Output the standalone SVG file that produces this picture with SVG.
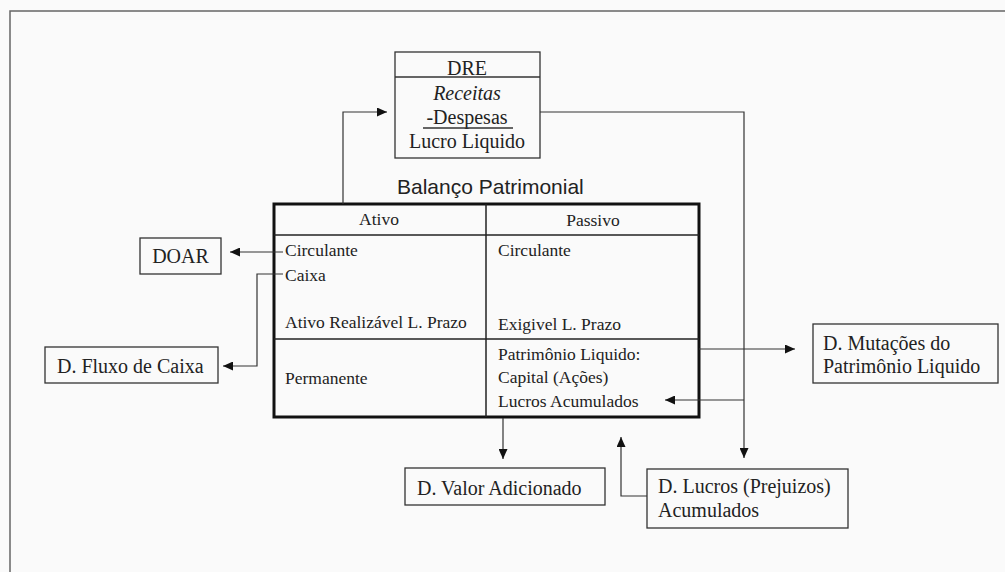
<svg xmlns="http://www.w3.org/2000/svg" width="1005" height="572" viewBox="0 0 1005 572">
<defs>
<style>
.bg{fill:#fafafa}
.frame{fill:none;stroke:#666;stroke-width:1.5}
.box{fill:none;stroke:#333;stroke-width:1.3}
.tbl{fill:none;stroke:#111;stroke-width:3}
.div{fill:none;stroke:#222;stroke-width:1.5}
.con{fill:none;stroke:#333;stroke-width:1.2}
.s{font-family:"Liberation Serif","Times New Roman",serif;fill:#222}
.t{font-size:17.5px}
.b{font-size:20px}
.h{font-family:"Liberation Sans",Arial,sans-serif;font-size:21px;fill:#222}
.c{text-anchor:middle}
</style>
<marker id="arr" markerUnits="userSpaceOnUse" markerWidth="11" markerHeight="9" refX="10" refY="4.5" orient="auto">
<path d="M0,0 L10,4.5 L0,9 z" fill="#111"/>
</marker>
</defs>
<rect class="bg" x="0" y="0" width="1005" height="572"/>
<path class="frame" d="M10,572 V11 H1005"/>

<g id="dre">
<rect class="box" x="395" y="52" width="145" height="106"/>
<line class="box" x1="395" y1="77" x2="540" y2="77"/>
<text class="s b c" x="467" y="75">DRE</text>
<text class="s b c" x="467" y="100" font-style="italic">Receitas</text>
<text class="s b c" x="467" y="124">-Despesas</text>
<line class="box" x1="423" y1="128" x2="513" y2="128"/>
<text class="s b c" x="467" y="148">Lucro Liquido</text>
</g>

<g id="balanco">
<text class="h" x="397" y="194">Balanço Patrimonial</text>
<rect class="tbl" x="274" y="204" width="425" height="213"/>
<line class="div" x1="274" y1="235" x2="699" y2="235"/>
<line class="div" x1="486" y1="204" x2="486" y2="417"/>
<line class="div" x1="274" y1="339" x2="699" y2="339"/>
<text class="s t c" x="379" y="225">Ativo</text>
<text class="s t c" x="593" y="226">Passivo</text>
<text class="s t" x="285" y="256">Circulante</text>
<text class="s t" x="285" y="281">Caixa</text>
<text class="s t" x="285" y="328">Ativo Realizável L. Prazo</text>
<text class="s t" x="285" y="384">Permanente</text>
<text class="s t" x="498" y="256">Circulante</text>
<text class="s t" x="498" y="330">Exigivel L. Prazo</text>
<text class="s t" x="498" y="360">Patrimônio Liquido:</text>
<text class="s t" x="498" y="383">Capital (Ações)</text>
<text class="s t" x="498" y="407">Lucros Acumulados</text>
</g>

<g id="doar">
<rect class="box" x="140" y="238" width="81" height="36"/>
<text class="s b c" x="180.5" y="263">DOAR</text>
</g>

<g id="fluxo">
<rect class="box" x="45" y="347" width="173" height="36"/>
<text class="s b" x="57" y="373">D. Fluxo de Caixa</text>
</g>

<g id="mutacoes">
<rect class="box" x="813" y="324" width="185" height="59"/>
<text class="s b" x="823" y="350">D. Mutações do</text>
<text class="s b" x="823" y="373">Patrimônio Liquido</text>
</g>

<g id="valor">
<rect class="box" x="405" y="468" width="200" height="37"/>
<text class="s b" x="417" y="495">D. Valor Adicionado</text>
</g>

<g id="lucros">
<rect class="box" x="647" y="469" width="201" height="59"/>
<text class="s b" x="658" y="493">D. Lucros (Prejuizos)</text>
<text class="s b" x="658" y="517">Acumulados</text>
</g>

<g id="connectors">
<path class="con" d="M343,204 V112 H387" marker-end="url(#arr)"/>
<path class="con" d="M540,112 H744 V458" marker-end="url(#arr)"/>
<path class="con" d="M744,400 H665" marker-end="url(#arr)"/>
<path class="con" d="M283,252 H230" marker-end="url(#arr)"/>
<path class="con" d="M283,274 H257 V366 H223" marker-end="url(#arr)"/>
<path class="con" d="M699,349 H795" marker-end="url(#arr)"/>
<path class="con" d="M503,418 V459" marker-end="url(#arr)"/>
<path class="con" d="M647,496 H621 V437" marker-end="url(#arr)"/>
</g>
</svg>
